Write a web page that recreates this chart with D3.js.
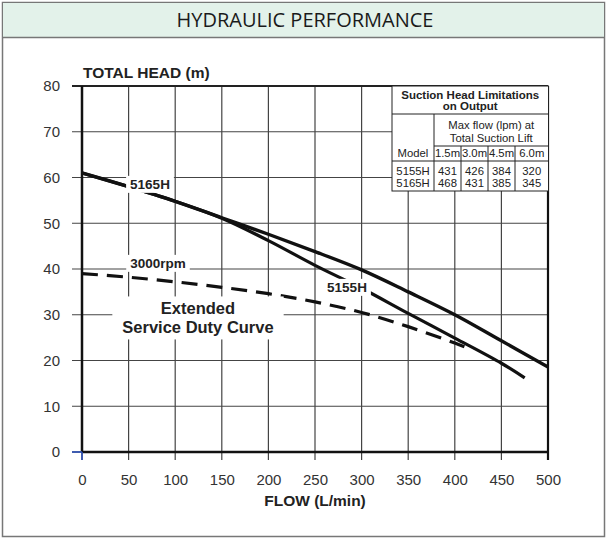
<!DOCTYPE html>
<html>
<head>
<meta charset="utf-8">
<script src="https://cdn.jsdelivr.net/npm/d3@7"></script>
<style>
  html, body { margin: 0; padding: 0; background: #fff; }
  svg { display: block; }
</style>
</head>
<body>
<svg id="chart" width="609" height="541"></svg>
<script>
// ---- data ----
const title = "HYDRAULIC PERFORMANCE";
const xTicks = [0, 50, 100, 150, 200, 250, 300, 350, 400, 450, 500];
const yTicks = [0, 10, 20, 30, 40, 50, 60, 70, 80];
const curve5165H = [[0,61],[50,58],[100,54.8],[150,51.2],[200,47.6],[250,43.8],[300,39.8],[350,35],[400,30],[450,24.3],[500,18.6]];
const curve5155H = [[0,61],[50,58],[100,54.8],[150,51.1],[200,46.2],[250,40.8],[300,35.8],[350,30.3],[400,24.9],[450,19.4],[475,16.2]];
const curve3000rpm = [[0,39],[50,38.2],[100,37.2],[150,36],[200,34.6],[250,32.8],[300,30.5],[350,27.4],[400,23.8],[415,22.6]];
const tableTitle = ["Suction Head Limitations", "on Output"];
const tableSub = ["Max flow (lpm) at", "Total Suction Lift"];
const tableCols = ["Model", "1.5m", "3.0m", "4.5m", "6.0m"];
const tableRows = [["5155H", 431, 426, 384, 320], ["5165H", 468, 431, 385, 345]];

const svg = d3.select("#chart");

// outer frame + header
svg.append("rect").attr("x", 2.5).attr("y", 2.5).attr("width", 602).attr("height", 534)
  .attr("fill", "#fff").attr("stroke", "#777").attr("stroke-width", 1.5);
svg.append("rect").attr("x", 3).attr("y", 3).attr("width", 601).attr("height", 34)
  .attr("fill", "#e3f2ea");
svg.append("line").attr("x1", 2.5).attr("x2", 604.5).attr("y1", 37.5).attr("y2", 37.5)
  .attr("stroke", "#777").attr("stroke-width", 1.5);
svg.append("text").attr("x", 305).attr("y", 27).attr("text-anchor", "middle")
  .attr("font-family", "'Open Sans', 'Noto Sans', sans-serif").attr("font-size", 20)
  .attr("fill", "#1a1a1a").text(title);

const x = d3.scaleLinear().domain([0, 500]).range([82, 548]);
const y = d3.scaleLinear().domain([0, 80]).range([452, 86]);
const F = "'Liberation Sans', Arial, sans-serif";

// gridlines
const grid = svg.append("g");
grid.selectAll(".vg").data(xTicks.filter(d => d > 0 && d < 500)).join("line")
  .attr("x1", d => x(d)).attr("x2", d => x(d)).attr("y1", y(80)).attr("y2", 460)
  .attr("stroke", "#444").attr("stroke-width", 1.2);
grid.selectAll(".hg").data(yTicks.filter(d => d > 0 && d < 80)).join("line")
  .attr("x1", 72).attr("x2", x(500)).attr("y1", d => y(d)).attr("y2", d => y(d))
  .attr("stroke", "#444").attr("stroke-width", 1.2);
// frame lines
grid.append("line").attr("x1", 72).attr("x2", x(500)).attr("y1", y(80)).attr("y2", y(80))
  .attr("stroke", "#222").attr("stroke-width", 1.8);
grid.append("line").attr("x1", x(500)).attr("x2", x(500)).attr("y1", y(80)).attr("y2", 460)
  .attr("stroke", "#111").attr("stroke-width", 2.2);
grid.append("line").attr("x1", x(0)).attr("x2", x(0)).attr("y1", y(80)).attr("y2", y(0))
  .attr("stroke", "#111").attr("stroke-width", 2.5);
grid.append("line").attr("x1", x(0)).attr("x2", x(500)).attr("y1", y(0)).attr("y2", y(0))
  .attr("stroke", "#111").attr("stroke-width", 2.5);
// blue origin ticks
grid.append("line").attr("x1", 72).attr("x2", x(0)).attr("y1", y(0)).attr("y2", y(0))
  .attr("stroke", "#2a4aa8").attr("stroke-width", 1.8);
grid.append("line").attr("x1", x(0)).attr("x2", x(0)).attr("y1", y(0)).attr("y2", 460)
  .attr("stroke", "#2a4aa8").attr("stroke-width", 1.8);

// tick labels via axes (lines hidden)
const xAxis = svg.append("g").attr("transform", `translate(0,${y(0)})`)
  .call(d3.axisBottom(x).tickValues(xTicks).tickSize(0).tickPadding(22).tickFormat(d3.format("d")));
const yAxis = svg.append("g").attr("transform", `translate(${x(0)},0)`)
  .call(d3.axisLeft(y).tickValues(yTicks).tickSize(0).tickPadding(22).tickFormat(d3.format("d")));
[xAxis, yAxis].forEach(a => {
  a.select(".domain").remove();
  a.selectAll("text").attr("font-family", F).attr("font-size", 15).attr("fill", "#333");
});

// curves
const line = d3.line().x(d => x(d[0])).y(d => y(d[1])).curve(d3.curveCatmullRom.alpha(0.5));
svg.append("path").datum(curve3000rpm).attr("d", line).attr("fill", "none")
  .attr("stroke", "#111").attr("stroke-width", 3.2).attr("stroke-dasharray", "16 9");
svg.append("path").datum(curve5155H).attr("d", line).attr("fill", "none")
  .attr("stroke", "#111").attr("stroke-width", 3.2);
svg.append("path").datum(curve5165H).attr("d", line).attr("fill", "none")
  .attr("stroke", "#111").attr("stroke-width", 3.4);

// labels with white boxes
function boxLabel(lines, cx, cy, size, lh, pad) {
  const g = svg.append("g");
  const r = g.append("rect").attr("fill", "#fff");
  const t = g.append("text").attr("font-family", F).attr("font-weight", "bold")
    .attr("font-size", size).attr("fill", "#222").attr("text-anchor", "middle");
  lines.forEach((s, i) => {
    t.append("tspan").attr("x", cx)
      .attr("y", cy + (i - (lines.length - 1) / 2) * lh + size * 0.36).text(s);
  });
  const bb = t.node().getBBox();
  r.attr("x", bb.x - pad[0]).attr("y", bb.y - pad[1])
    .attr("width", bb.width + 2 * pad[0]).attr("height", bb.height + 2 * pad[1]);
}
boxLabel(["5165H"], 150, 184, 13.5, 0, [4, 1]);
boxLabel(["3000rpm"], 158, 263, 13.5, 0, [4, 1]);
boxLabel(["5155H"], 347, 287, 13.5, 0, [4, 1]);
boxLabel(["Extended", "Service Duty Curve"], 198, 318, 16.5, 19, [10, 3]);

// axis titles
svg.append("text").attr("x", 83).attr("y", 78).attr("font-family", F).attr("font-weight", "bold")
  .attr("font-size", 15.5).attr("fill", "#222").text("TOTAL HEAD (m)");
svg.append("text").attr("x", 315).attr("y", 506).attr("text-anchor", "middle").attr("font-family", F)
  .attr("font-weight", "bold").attr("font-size", 15.5).attr("fill", "#222").text("FLOW (L/min)");

// table
const tb = svg.append("g");
const tx0 = 392, tx1 = 548.5, ty0 = 86, ty1 = 191;
const colX = [392, 434, 461, 488, 515, 548.5];
tb.append("rect").attr("x", tx0).attr("y", ty0).attr("width", tx1 - tx0).attr("height", ty1 - ty0)
  .attr("fill", "#fff").attr("stroke", "#222").attr("stroke-width", 1);
const hl = (x1, x2, yy) => tb.append("line").attr("x1", x1).attr("x2", x2).attr("y1", yy).attr("y2", yy)
  .attr("stroke", "#222").attr("stroke-width", 1);
const vl = (xx, y1, y2) => tb.append("line").attr("x1", xx).attr("x2", xx).attr("y1", y1).attr("y2", y2)
  .attr("stroke", "#222").attr("stroke-width", 1);
hl(tx0, tx1, 114);
hl(colX[1], tx1, 146);
hl(tx0, tx1, 161);
vl(colX[1], 114, ty1);
[2, 3, 4].forEach(i => vl(colX[i], 146, ty1));
const tt = (s, cx, cy, bold, anchor) => tb.append("text").attr("x", cx).attr("y", cy)
  .attr("text-anchor", anchor || "middle").attr("font-family", F).attr("font-size", bold ? 11.5 : 11.3)
  .attr("font-weight", bold ? "bold" : "normal").attr("fill", "#222").text(s);
tt(tableTitle[0], (tx0 + tx1) / 2, 99, true);
tt(tableTitle[1], (tx0 + tx1) / 2, 110, true);
tt(tableSub[0], (colX[1] + tx1) / 2, 129, false);
tt(tableSub[1], (colX[1] + tx1) / 2, 142, false);
tableCols.forEach((c, i) => tt(c, (colX[i] + colX[i + 1]) / 2, 157, false));
tableRows.forEach((row, r) => row.forEach((v, i) =>
  tt(v, (colX[i] + colX[i + 1]) / 2, 175 + r * 12, false)));
</script>
</body>
</html>
